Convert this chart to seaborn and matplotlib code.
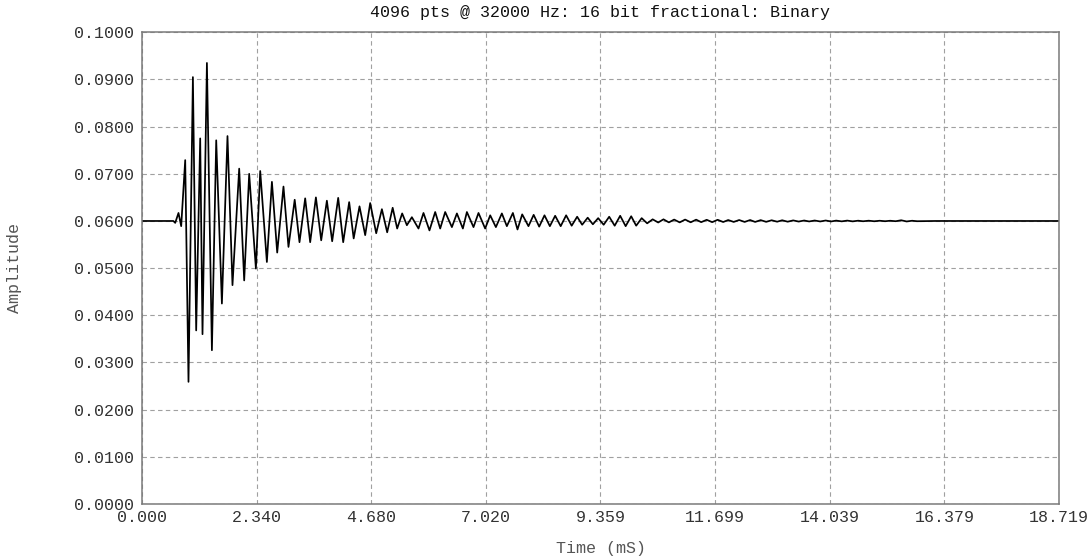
import numpy as np
import pandas as pd
import matplotlib
matplotlib.use("Agg")
import matplotlib.pyplot as plt
import seaborn as sns

# ---- data -------------------------------------------------------------
title_text = "4096 pts @ 32000 Hz: 16 bit fractional: Binary"
x_label = "Time (mS)"
y_label = "Amplitude"

xtick_labels = ["0.000", "2.340", "4.680", "7.020", "9.359",
                "11.699", "14.039", "16.379", "18.719"]
ytick_labels = ["0.0000", "0.0100", "0.0200", "0.0300", "0.0400", "0.0500",
                "0.0600", "0.0700", "0.0800", "0.0900", "0.1000"]

# quiet level before the strike and the small pre-ring wiggle
lead_t = [0.0, 0.640, 0.678, 0.745, 0.800]
lead_v = [0.0600, 0.0600, 0.0596, 0.0617, 0.0589]

# positive swings of the ringing response (ms, amplitude)
peak_t = [0.882, 1.039, 1.188, 1.325, 1.515, 1.745, 1.984, 2.188, 2.413, 2.652,
          2.888, 3.117, 3.331, 3.550, 3.774, 4.005, 4.229, 4.440, 4.658, 4.897,
          5.117, 5.311, 5.509, 5.746, 5.985, 6.189, 6.428, 6.632, 6.869, 7.108,
          7.346, 7.571, 7.761, 7.995, 8.216, 8.434, 8.658, 8.883, 9.098, 9.312,
          9.537, 9.761, 9.986, 10.200, 10.424, 10.645, 10.863, 11.087, 11.312,
          11.527, 11.751, 11.966, 12.190, 12.414, 12.629, 12.853, 13.068, 13.292,
          13.517, 13.731, 13.956, 14.170, 14.395, 14.619, 14.834, 15.058, 15.273,
          15.497, 15.721]
peak_v = [0.0729, 0.0905, 0.0775, 0.0935, 0.0771, 0.0780, 0.0711, 0.0700, 0.0706,
          0.0683, 0.0673, 0.0645, 0.0648, 0.0650, 0.0643, 0.0649, 0.0640, 0.0631,
          0.0638, 0.0625, 0.0628, 0.0616, 0.0608, 0.0617, 0.0619, 0.0619, 0.0616,
          0.0619, 0.0617, 0.0612, 0.0616, 0.0617, 0.0614, 0.0613, 0.0612, 0.0611,
          0.0612, 0.0609, 0.0607, 0.0606, 0.0609, 0.0611, 0.0610, 0.0606, 0.06035,
          0.06035, 0.0603, 0.0603, 0.06028, 0.06025, 0.06025, 0.0602, 0.0602,
          0.0602, 0.06018, 0.06015, 0.06015, 0.06012, 0.0601, 0.0601, 0.0601,
          0.06008, 0.06008, 0.06006, 0.06006, 0.06005, 0.06005, 0.06015, 0.06005]

# negative swings of the ringing response (ms, amplitude)
trough_t = [0.949, 1.106, 1.235, 1.427, 1.631, 1.847, 2.086, 2.325, 2.549, 2.760,
            2.990, 3.215, 3.433, 3.658, 3.882, 4.107, 4.321, 4.556, 4.781, 5.005,
            5.209, 5.407, 5.644, 5.868, 6.087, 6.326, 6.550, 6.767, 7.005, 7.224,
            7.448, 7.665, 7.889, 8.108, 8.326, 8.547, 8.771, 8.985, 9.204, 9.424,
            9.649, 9.873, 10.088, 10.312, 10.537, 10.755, 10.976, 11.200, 11.415,
            11.639, 11.864, 12.078, 12.302, 12.516, 12.741, 12.966, 13.180, 13.405,
            13.619, 13.844, 14.068, 14.283, 14.507, 14.721, 14.946, 15.170, 15.385,
            15.609, 15.823]
trough_v = [0.0259, 0.0368, 0.0360, 0.0326, 0.0425, 0.0464, 0.0474, 0.0499, 0.0513,
            0.0533, 0.0545, 0.0555, 0.0555, 0.0559, 0.0557, 0.0555, 0.0563, 0.0570,
            0.0574, 0.0576, 0.0584, 0.0591, 0.0584, 0.0580, 0.0584, 0.0587, 0.0584,
            0.0587, 0.0584, 0.0587, 0.0589, 0.0582, 0.0589, 0.0588, 0.0589, 0.0589,
            0.0590, 0.0592, 0.0593, 0.0592, 0.0590, 0.0589, 0.0590, 0.0595, 0.05968,
            0.0597, 0.0597, 0.05972, 0.05975, 0.05975, 0.05978, 0.0598, 0.0598,
            0.0598, 0.05982, 0.05985, 0.05985, 0.05988, 0.0599, 0.0599, 0.0599,
            0.05992, 0.05992, 0.05994, 0.05994, 0.05995, 0.05995, 0.0599, 0.05995]

# settled level to the end of the window
tail_t = [16.200, 18.719]
tail_v = [0.0600, 0.0600]

# ---- assemble ---------------------------------------------------------
signal = pd.DataFrame({
    "time": lead_t + peak_t + trough_t + tail_t,
    "amp": lead_v + peak_v + trough_v + tail_v,
}).sort_values("time").reset_index(drop=True)

xticks = [float(s) for s in xtick_labels]
yticks = [float(s) for s in ytick_labels]

# ---- style ------------------------------------------------------------
sns.set_theme(style="white")
plt.rcParams["font.family"] = ["Liberation Mono", "DejaVu Sans Mono"]

W, H = 1090, 557
fig = plt.figure(figsize=(W / 100, H / 100), dpi=100, facecolor="white")
ax = fig.add_axes([142 / W, (H - 504) / H, 917 / W, (504 - 32.3) / H])
ax.set_facecolor("white")

sns.lineplot(data=signal, x="time", y="amp", ax=ax, color="black",
             linewidth=1.25, estimator=None, sort=True)

ax.set_xlim(xticks[0], xticks[-1])
ax.set_ylim(yticks[0], yticks[-1])
ax.set_xticks(xticks)
ax.set_xticklabels(xtick_labels)
ax.set_yticks(yticks)
ax.set_yticklabels(ytick_labels)

ax.grid(True, color="#a0a0a0", linestyle=(0, (4, 3)), linewidth=0.8)
ax.set_axisbelow(True)

for side in ["left", "right", "top", "bottom"]:
    ax.spines[side].set_visible(True)
    ax.spines[side].set_color("#7a7a7a")
    ax.spines[side].set_linewidth(1.1)

ax.tick_params(axis="both", length=0, labelsize=12, colors="#333333")
ax.tick_params(axis="y", pad=6)
ax.tick_params(axis="x", pad=4)

ax.set_title(title_text, fontsize=12, color="#111111", pad=11)
ax.set_xlabel(x_label, fontsize=12, color="#555555")
ax.set_ylabel(y_label, fontsize=12, color="#555555")
ax.xaxis.set_label_coords(0.5, -0.078)
ax.yaxis.set_label_coords(-0.131, 0.5)

fig.savefig("out.png", dpi=100, facecolor="white")
